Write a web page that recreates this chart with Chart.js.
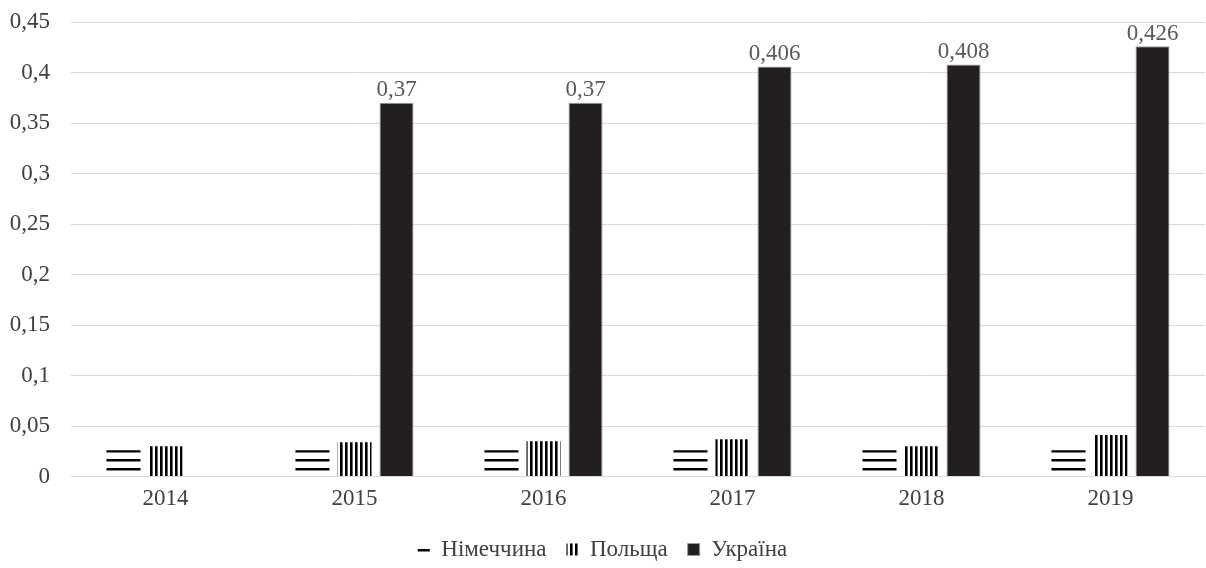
<!DOCTYPE html>
<html>
<head>
<meta charset="utf-8">
<script src="https://cdn.jsdelivr.net/npm/chart.js@4/dist/chart.umd.min.js"></script>
<style>
  html, body { margin: 0; padding: 0; background: #fff; }
  #wrap { width: 1206px; height: 568px; }
</style>
</head>
<body>
<div id="wrap"><canvas id="chart1"></canvas></div>
<script>
const years = ['2014', '2015', '2016', '2017', '2018', '2019'];
const germany = [0.026, 0.026, 0.026, 0.026, 0.026, 0.026];
const poland = [0.030, 0.034, 0.035, 0.037, 0.030, 0.041];
const ukraine = [null, 0.37, 0.37, 0.406, 0.408, 0.426];
const seriesNames = ['Німеччина', 'Польща', 'Україна'];

const FONT = "'Liberation Serif', 'Times New Roman', serif";

function comma(v) {
  return String(+Number(v).toFixed(3)).replace('.', ',');
}

// striped fills for the first two series
function makePattern(w, h, draw) {
  const c = document.createElement('canvas');
  c.width = w;
  c.height = h;
  const ctx = c.getContext('2d');
  ctx.fillStyle = '#fff';
  ctx.fillRect(0, 0, w, h);
  ctx.fillStyle = '#000';
  draw(ctx);
  return ctx.createPattern(c, 'repeat');
}

const valueLabels = {
  id: 'valueLabels',
  afterDatasetsDraw(chart) {
    const ctx = chart.ctx;
    const meta = chart.getDatasetMeta(2);
    ctx.save();
    ctx.font = '23px ' + FONT;
    ctx.fillStyle = '#595959';
    ctx.textAlign = 'center';
    ctx.textBaseline = 'bottom';
    meta.data.forEach((bar, i) => {
      if (ukraine[i] == null) return;
      ctx.fillText(comma(ukraine[i]), bar.x, bar.y - 1);
    });
    ctx.restore();
  }
};

function startChart() {
  const ctxMain = document.getElementById('chart1').getContext('2d');
  const hLines = makePattern(8, 9, (ctx) => ctx.fillRect(0, 0, 8, 2.5));
  const vLines = makePattern(5, 8, (ctx) => ctx.fillRect(0, 0, 2.6, 8));

  new Chart(ctxMain, {
    type: 'bar',
    data: {
      labels: years,
      datasets: [{
        label: seriesNames[0],
        data: germany,
        backgroundColor: hLines,
        borderWidth: 0
      }, {
        label: seriesNames[1],
        data: poland,
        backgroundColor: vLines,
        borderWidth: 0
      }, {
        label: seriesNames[2],
        data: ukraine,
        backgroundColor: '#231f20',
        borderColor: '#9a9a9a',
        borderWidth: 1
      }]
    },
    options: {
      responsive: true,
      maintainAspectRatio: false,
      animation: false,
      categoryPercentage: 0.667,
      barPercentage: 0.81,
      layout: { padding: { top: 22, right: 1, left: 0, bottom: 0 } },
      scales: {
        x: {
          grid: { display: false, drawTicks: false },
          border: { display: true, color: '#d9d9d9' },
          ticks: {
            color: '#404040',
            font: { family: FONT, size: 23 },
            padding: 9
          },
          afterFit: (scale) => { scale.height = 41.5; }
        },
        y: {
          min: 0,
          max: 0.45,
          grid: { color: '#d9d9d9', drawTicks: false },
          border: { display: false },
          ticks: {
            stepSize: 0.05,
            color: '#404040',
            font: { family: FONT, size: 23 },
            padding: 21,
            callback: (v) => comma(v)
          },
          afterFit: (scale) => {
            scale.width = 71;
            scale.paddingTop = 0;
            scale.paddingBottom = 0;
          }
        }
      },
      plugins: {
        legend: {
          position: 'bottom',
          maxHeight: 50,
          labels: {
            color: '#404040',
            font: { family: FONT, size: 23 },
            boxWidth: 12,
            boxHeight: 12,
            padding: 20
          }
        },
        tooltip: { enabled: false }
      }
    },
    plugins: [valueLabels]
  });
}

document.fonts.load('23px "Liberation Serif"').then(startChart, startChart);
</script>
</body>
</html>
